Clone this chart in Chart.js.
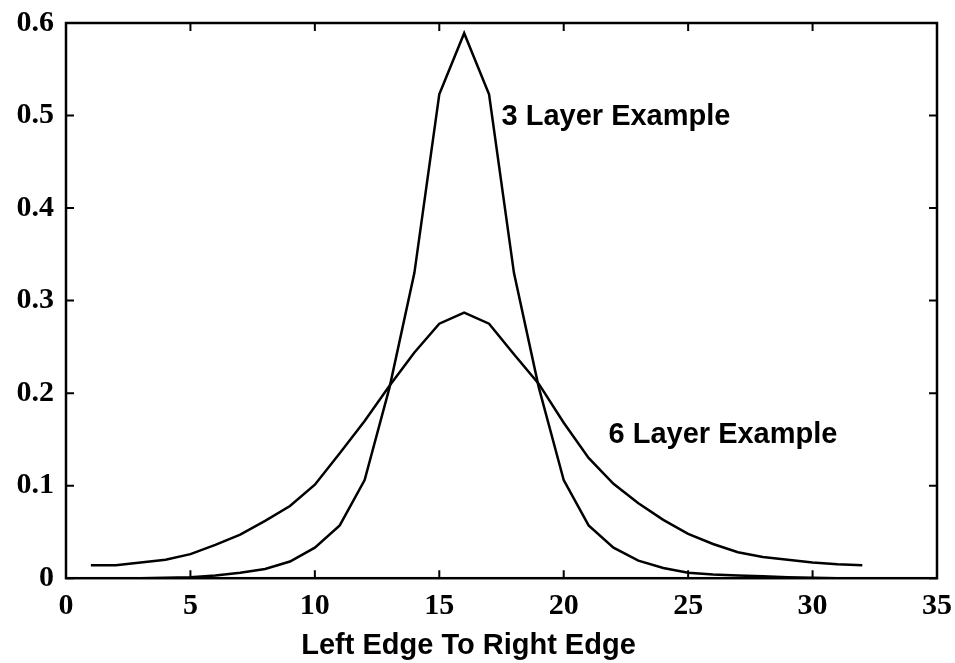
<!DOCTYPE html>
<html>
<head>
<meta charset="utf-8">
<script src="https://cdn.jsdelivr.net/npm/chart.js@4/dist/chart.umd.min.js"></script>
<style>
    body { margin: 0; background: #fff; }
    #wrap { width: 955px; height: 663px; position: relative; }
</style>
</head>
<body>
<div id="wrap"><canvas id="layerChart"></canvas></div>
<script>
// positions across the part, left edge to right edge
const positions = [1, 2, 3, 4, 5, 6, 7, 8, 9, 10, 11, 12, 13, 14, 15, 16,
    17, 18, 19, 20, 21, 22, 23, 24, 25, 26, 27, 28, 29, 30, 31, 32];

const threeLayer = [0, 0, 0, 0.0005, 0.001, 0.003, 0.006, 0.010, 0.018, 0.033, 0.057, 0.106,
    0.206, 0.330, 0.523, 0.589, 0.523, 0.330, 0.206, 0.106, 0.057, 0.033, 0.019, 0.011,
    0.006, 0.004, 0.003, 0.002, 0.001, 0.0005, 0, 0];

const sixLayer = [0.014, 0.014, 0.017, 0.020, 0.026, 0.036, 0.047, 0.062, 0.078, 0.101, 0.135, 0.170,
    0.208, 0.244, 0.275, 0.287, 0.275, 0.242, 0.210, 0.168, 0.130, 0.102, 0.081, 0.063,
    0.048, 0.037, 0.028, 0.023, 0.020, 0.017, 0.015, 0.014];

const xTicks = [0, 5, 10, 15, 20, 25, 30, 35];
const yTicks = [0, 0.1, 0.2, 0.3, 0.4, 0.5, 0.6];

const seriesLabels = ["3 Layer Example", "6 Layer Example"];

const INK = "#000";
const SANS = "'Liberation Sans', Arial, sans-serif";
const SERIF = "'Liberation Serif', 'Times New Roman', serif";

function toPoints(values) {
    return positions.map((x, i) => ({ x: x, y: values[i] }));
}

// box around the plot with inward tick marks on all four sides, plus the curve labels
const boxPlugin = {
    id: "box",
    afterDatasetsDraw(chart) {
        const { ctx, chartArea: a, scales } = chart;
        const len = 8;
        ctx.save();
        ctx.strokeStyle = INK;
        ctx.lineWidth = 2.5;
        ctx.strokeRect(a.left, a.top, a.right - a.left, a.bottom - a.top);

        ctx.lineWidth = 2;
        ctx.beginPath();
        xTicks.forEach(v => {
            const px = scales.x.getPixelForValue(v);
            ctx.moveTo(px, a.bottom); ctx.lineTo(px, a.bottom - len);
            ctx.moveTo(px, a.top); ctx.lineTo(px, a.top + len);
        });
        yTicks.forEach(v => {
            const py = scales.y.getPixelForValue(v);
            ctx.moveTo(a.left, py); ctx.lineTo(a.left + len, py);
            ctx.moveTo(a.right, py); ctx.lineTo(a.right - len, py);
        });
        ctx.stroke();

        ctx.fillStyle = INK;
        ctx.font = "bold 29px " + SANS;
        ctx.textAlign = "left";
        ctx.textBaseline = "alphabetic";
        ctx.fillText(seriesLabels[0], scales.x.getPixelForValue(17.5), scales.y.getPixelForValue(0.49));
        ctx.fillText(seriesLabels[1], scales.x.getPixelForValue(21.8), scales.y.getPixelForValue(0.146));
        ctx.restore();
    }
};

window.onload = () => {
    const ctx = document.getElementById("layerChart").getContext("2d");
    new Chart(ctx, {
        type: "line",
        data: {
            datasets: [
                {
                    label: seriesLabels[0],
                    data: toPoints(threeLayer),
                    borderColor: INK,
                    borderWidth: 2.5,
                    pointRadius: 0,
                    fill: false,
                    tension: 0
                },
                {
                    label: seriesLabels[1],
                    data: toPoints(sixLayer),
                    borderColor: INK,
                    borderWidth: 2.5,
                    pointRadius: 0,
                    fill: false,
                    tension: 0
                }
            ]
        },
        options: {
            responsive: true,
            maintainAspectRatio: false,
            animation: false,
            layout: { padding: { left: 0, right: 18, top: 23, bottom: 0 } },
            plugins: {
                legend: { display: false },
                tooltip: { enabled: false },
                title: {
                    display: true,
                    position: "bottom",
                    text: "Left Edge To Right Edge",
                    color: INK,
                    font: { family: SANS, size: 29, weight: "bold" },
                    padding: { top: 0, bottom: 0 }
                }
            },
            scales: {
                x: {
                    type: "linear",
                    min: 0,
                    max: 35,
                    afterFit: scale => {
                        scale.height = 50;
                        scale.paddingLeft = 0;
                        scale.paddingRight = 0;
                    },
                    afterBuildTicks: scale => { scale.ticks = xTicks.map(v => ({ value: v })); },
                    grid: { display: false, drawTicks: false },
                    border: { display: false },
                    ticks: {
                        color: INK,
                        padding: 10,
                        maxRotation: 0,
                        font: { family: SERIF, size: 30, weight: "bold" },
                        callback: v => String(v)
                    }
                },
                y: {
                    type: "linear",
                    min: 0,
                    max: 0.6,
                    afterFit: scale => {
                        scale.width = 66;
                        scale.paddingTop = 0;
                        scale.paddingBottom = 0;
                    },
                    afterBuildTicks: scale => { scale.ticks = yTicks.map(v => ({ value: v })); },
                    grid: { display: false, drawTicks: false },
                    border: { display: false },
                    ticks: {
                        color: INK,
                        padding: 12,
                        font: { family: SERIF, size: 30, weight: "bold" },
                        callback: v => String(+v.toFixed(1))
                    }
                }
            }
        },
        plugins: [boxPlugin]
    });
};
</script>
</body>
</html>
